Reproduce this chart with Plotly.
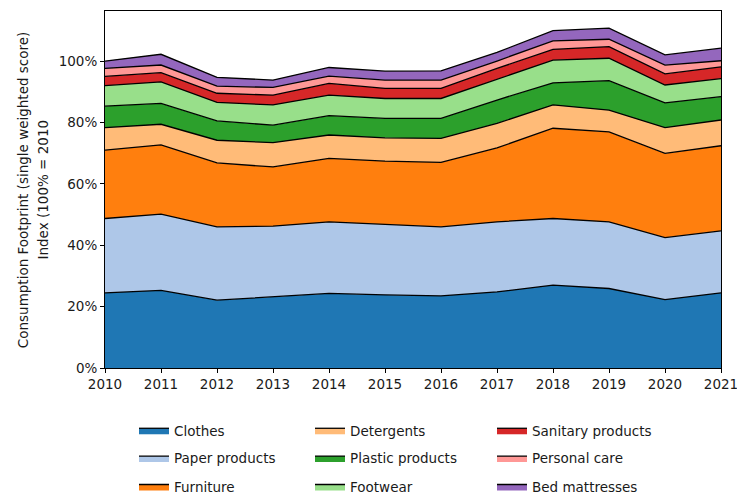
import plotly.graph_objects as go

years = list(range(2010, 2022))

# per-category contributions (% of 2010 total)
clothes = [24.5, 25.3, 22.1, 23.2, 24.3, 23.8, 23.5, 24.8, 27.0, 25.9, 22.3, 24.5]
paper = [24.2, 24.8, 23.9, 23.0, 23.3, 23.1, 22.5, 22.8, 21.7, 21.7, 20.2, 20.2]
furniture = [22.3, 22.6, 20.8, 19.3, 20.7, 20.5, 21.0, 24.1, 29.4, 29.3, 27.4, 27.7]
detergents = [7.3, 6.7, 7.4, 7.9, 7.6, 7.6, 7.8, 8.0, 7.6, 7.1, 8.4, 8.4]
plastic = [7.0, 6.8, 6.3, 5.7, 6.3, 6.3, 6.5, 7.6, 7.2, 9.6, 8.1, 7.6]
footwear = [6.7, 7.0, 6.0, 6.6, 6.7, 6.5, 6.5, 6.7, 7.4, 7.3, 5.8, 5.9]
sanitary = [3.0, 3.0, 3.0, 3.2, 3.8, 3.3, 3.3, 3.6, 3.5, 3.8, 3.6, 3.8]
personal = [2.6, 2.5, 2.3, 2.5, 2.4, 2.7, 2.7, 2.4, 2.8, 2.4, 2.9, 2.0]
mattresses = [2.4, 3.5, 2.9, 2.4, 2.8, 2.9, 3.0, 2.8, 3.3, 3.6, 3.3, 4.1]

names = ["Clothes", "Paper products", "Furniture", "Detergents", "Plastic products",
         "Footwear", "Sanitary products", "Personal care", "Bed mattresses"]
series = [clothes, paper, furniture, detergents, plastic, footwear, sanitary, personal, mattresses]
colors = ["#1f77b4", "#aec7e8", "#ff7f0e", "#ffbb78", "#2ca02c",
          "#98df8a", "#d62728", "#ff9896", "#9467bd"]
title_lines = ["Consumption Footprint (single weighted score)", "Index (100% = 2010"]

W, H = 737, 497
FS = 13.5
TXT = "#1a1a1a"

# plot area in page pixels
PL, PR, PT, PB = 105, 721, 11, 368

fig = go.Figure()
for name, vals, col in zip(names, series, colors):
    fig.add_trace(go.Scatter(
        x=years, y=[v / 100 for v in vals], name=name, mode="lines",
        stackgroup="one", line=dict(color="black", width=1.3),
        fillcolor=col, showlegend=False, hoverinfo="skip"))

# legend layout: 3 columns x 3 rows, column-major like the reference
icon_left = [139, 315, 497]
row_y = [430.5, 458.3, 486.7]
legends = {}
for i, (name, col) in enumerate(zip(names, colors)):
    c, r = divmod(i, 3)
    lid = "legend" if i == 0 else f"legend{i + 1}"
    fig.add_trace(go.Scatter(x=[None], y=[None], name=name, legend=lid, mode="lines",
                             fill="toself", fillcolor=col,
                             line=dict(color="black", width=1.3)))
    legends[lid] = dict(xref="container", yref="container",
                        x=(icon_left[c] - 5) / W, xanchor="left",
                        y=1 - row_y[r] / H, yanchor="middle",
                        bgcolor="rgba(0,0,0,0)", borderwidth=0, itemwidth=30,
                        font=dict(family="DejaVu Sans", size=FS, color=TXT))

axis_common = dict(showgrid=False, zeroline=False, showline=True, linecolor="black",
                   linewidth=1, mirror=True, ticks="outside", ticklen=4, tickcolor="black",
                   tickfont=dict(family="DejaVu Sans", size=FS, color=TXT), automargin=False)

fig.update_layout(
    width=W, height=H,
    margin=dict(l=PL, r=W - PR, t=PT, b=H - PB, autoexpand=False),
    plot_bgcolor="white", paper_bgcolor="white",
    font=dict(family="DejaVu Sans", size=FS, color=TXT),
    xaxis=dict(range=[2010, 2021], dtick=1, tick0=2010, ticklabeloverflow="allow", **axis_common),
    yaxis=dict(range=[0, 1.163], dtick=0.2, tickformat=".0%", **axis_common),
    **legends,
)

for xpx, line in zip([22.7, 42.0], title_lines):
    fig.add_annotation(text=line, xref="paper", yref="paper",
                       x=(xpx - PL) / (PR - PL), y=0.5, xanchor="center", yanchor="middle",
                       textangle=-90, showarrow=False,
                       font=dict(family="DejaVu Sans", size=FS, color=TXT))

fig.write_html("out.html", config={"displayModeBar": False},
               post_script="document.body.style.margin='0';document.body.style.overflow='hidden';")
